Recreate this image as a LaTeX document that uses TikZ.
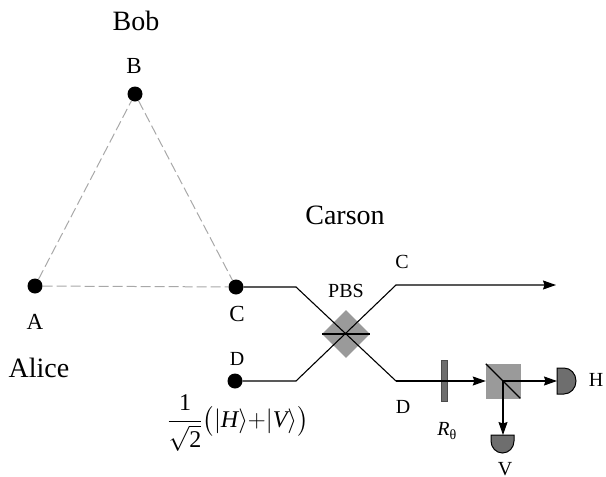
\documentclass[tikz,border=0pt]{standalone}
\usepackage{amsmath}
\usepackage{fontspec}
\setmainfont{Liberation Serif}
\usetikzlibrary{arrows.meta,shapes.geometric}
\definecolor{qtgray}{HTML}{9A9A9A}
\definecolor{qtdark}{HTML}{6E6E6E}
\definecolor{qtdash}{HTML}{A8A8A8}
\tikzset{
  qtdot/.style   ={circle, fill=black, minimum size=15pt, inner sep=0pt},
  qtlbl/.style   ={font=\fontsize{20}{22}\selectfont, inner sep=0pt},
  qtlblb/.style  ={font=\fontsize{23}{25}\selectfont, inner sep=0pt},
  qtname/.style  ={font=\fontsize{28}{30}\selectfont, inner sep=0pt},
  qtlink/.style  ={dashed, dash pattern=on 10pt off 4pt, draw=qtdash, line width=1pt},
  qtbeam/.style  ={line width=1.1pt, draw=black},
  qtarrow/.style ={qtbeam, -{Stealth[length=13pt,width=9pt,inset=1.5pt]}},
  qtplate/.style ={rectangle, draw=black!70, fill=qtdark, minimum width=6pt, minimum height=41pt,
                   inner sep=0pt, line width=0.8pt},
  qtcube/.style  ={rectangle, draw=qtgray, fill=qtgray, minimum size=34pt, inner sep=0pt},
  qtdiam/.style  ={diamond, fill=qtgray, minimum size=48pt, inner sep=0pt},
  qtdet/.style   ={draw=black, fill=qtdark, line width=1pt},
}
\begin{document}
\begin{tikzpicture}[x=1pt,y=-1pt]
  \useasboundingbox (0,0) rectangle (606,477);
  % triangle
  \node[qtdot] (a) at (35,286) {};
  \node[qtdot] (b) at (135,94) {};
  \node[qtdot] (c) at (236,287) {};
  \node[qtdot] (d) at (235,381) {};
  \draw[qtlink] (a) -- (b);
  \draw[qtlink] (b) -- (c);
  \draw[qtlink] (a) -- (c);
  % optics
  \node[qtdiam] (pbs) at (346,334) {};
  \node[qtplate] (plate) at (444,381) {};
  \node[qtcube] (cube) at (503,381) {};
  \coordinate (cbend) at (296,287);
  \coordinate (dbend) at (296,381);
  \coordinate (cout) at (396,285);
  \coordinate (dout) at (396,381);
  \coordinate (cend) at (556,285);
  \coordinate (hdet) at (557,381);
  \coordinate (vdet) at (503,435);
  \draw[qtbeam] (c) -- (cbend) -- (dout);
  \draw[qtarrow] (d) -- (dbend) -- (cout) -- (cend);
  \draw[qtbeam] (pbs.west) -- (pbs.east);
  \draw[qtarrow] (dout) -- (cube.west);
  \draw[qtbeam] (cube.north west) -- (cube.south east);
  \draw[qtarrow] (cube.center) -- (hdet);
  \draw[qtarrow] (cube.center) -- (vdet);
  % detectors
  \draw[qtdet] (557,368) -- (564,368) arc (-90:90:12 and 13) -- (557,394) -- cycle;
  \draw[qtdet] (491,435) -- (514,435) -- (514,441) arc (0:180:11.5 and 12) -- cycle;
  % labels
  \node[qtname] (bob) at (136,21) {Bob};
  \node[qtname] (carson) at (345,215) {Carson};
  \node[qtname] (alice) at (39,368) {Alice};
  \node[qtlblb] (la) at (35,322) {A};
  \node[qtlblb] (lb) at (134,66) {B};
  \node[qtlblb] (lc) at (237,314) {C};
  \node[qtlbl] (ld) at (237,359) {D};
  \node[qtlbl] (lcout) at (402,262) {C};
  \node[qtlbl] (ldout) at (403,407) {D};
  \node[qtlbl] (lpbs) at (346,291) {PBS};
  \node[qtlbl] (lr) at (447,431) {\textit{R}\textsubscript{θ}};
  \node[qtlbl] (lv) at (505,469) {V};
  \node[qtlbl] (lh) at (596,380) {H};
  \node[qtlbl, font=\fontsize{24}{26}\selectfont] (state) at (238,423)
       {$\dfrac{\textrm{1}}{\sqrt{\textrm{2}}}\bigl(|\textit{H}\rangle{+}|\textit{V}\rangle\bigr)$};
\end{tikzpicture}
\end{document}
